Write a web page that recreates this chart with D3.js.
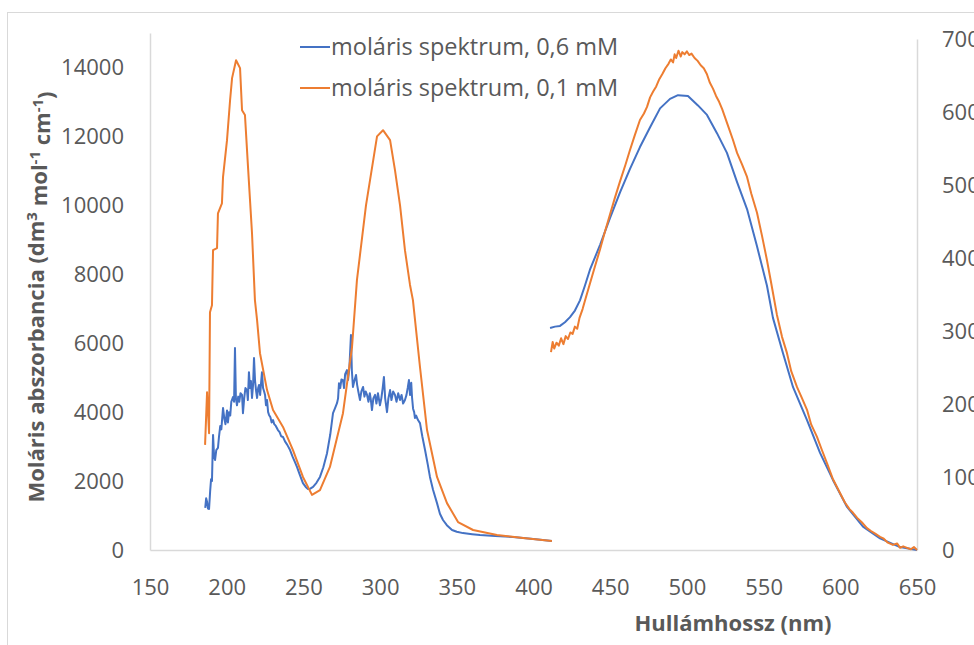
<!DOCTYPE html>
<html>
<head>
<meta charset="utf-8">
<script src="https://cdn.jsdelivr.net/npm/d3@7"></script>
<style>
body{margin:0;background:#fff;}
svg{display:block;font-family:"Open Sans",sans-serif;}
</style>
</head>
<body>
<svg id="chart" width="974" height="645"></svg>
<script>
// UV part (left axis), nm and molar absorbance
var uvWl06 = [186,186.6,187.2,187.8,188.5,189.2,189.8,190.4,191.1,191.8,192.4,193.2,194.3,195,195.8,196.5,197.6,198.5,199.2,200.2,200.8,201.5,202.3,203,204.1,204.8,205.4,206,206.7,207.5,208.2,209,210,210.6,211.4,212.2,213.2,213.8,214.5,215.2,215.8,216.5,217.2,217.8,218.5,219.2,219.8,220.5,221.1,221.8,222.4,223,223.7,224.4,225,225.6,226.3,227,227.6,228.5,229.3,230.2,231,232,233.4,234.5,235.5,236.7,238,239.5,241.3,243,244.5,245.8,247.5,249.7,251.5,253,254.5,256.3,258.5,260.8,263,265.4,267.5,269.3,270.5,271.9,272.6,273.2,274,274.8,275.8,276.5,277.2,278.4,279.1,280,281,281.6,282.3,283.2,284.3,285,285.8,286.9,287.8,288.9,289.8,290.6,291.5,292.4,293.3,294,294.7,295.6,296.7,297.6,298.6,299.9,300.8,301.7,302.5,303.3,304.5,305.4,306.5,307.4,308.5,309.7,310.7,311.8,313,314,315,316.2,317.2,318,318.8,319.5,320.3,320.8,321.5,322.2,322.7,323.5,324.7,326,327.5,329.3,331,332.5,334.5,337.1,339,341,343.5,346.9,350,354,360,365.1,375,386.6,400,412];
var uvAbs06 = [1220,1500,1400,1200,1190,1700,2050,2000,3340,2700,2610,2900,2960,3300,3600,3500,4120,3800,3650,4050,3700,4000,3900,4300,4440,4300,5860,4400,4200,4450,4300,4550,4500,3970,4400,4700,4640,4350,5160,4700,4900,4410,4800,5570,4900,4600,4410,4700,4790,4500,4850,5160,4700,4600,4500,4200,4350,4000,3920,3850,3700,3770,3650,3600,3480,3420,3300,3280,3150,3050,2900,2700,2550,2410,2200,1940,1830,1770,1780,1830,1950,2120,2400,2810,3350,3970,4100,4260,4400,4840,4700,4950,4930,4700,5100,5220,4930,5300,6240,5200,4730,4900,5080,4800,4600,4350,4600,4730,4450,4600,4500,4300,4550,4350,4060,4400,4500,4250,4550,4200,4400,4700,5020,4400,4000,4400,4640,4350,4600,4500,4300,4550,4350,4500,4250,4350,4500,4700,4930,4500,4850,4440,4100,4000,3830,3900,3770,3680,3300,2900,2500,2120,1750,1360,1050,870,720,580,530,490,460,435,405,377,320,260];

var uvWl01 = [185.9,187.2,188.5,189.1,190.4,191.1,193.7,194.3,196.9,197.6,200.2,202.2,203.5,206.1,208.7,210.0,211.9,213.9,216.5,218.4,219.8,221.7,226.3,230.2,236.7,243.2,249.7,255.6,260.8,267.3,275.8,281.7,284.9,290.8,298.0,301.9,306.5,309.7,313.0,316.2,319.5,321.4,326.0,330.6,337.1,343.6,350.8,360.6,376.2,393.2,412.0];
var uvAbs01 = [3050,4580,3390,6900,7100,8700,8760,9770,10060,10820,11890,13050,13690,14210,13980,12760,12620,11110,9190,7250,6670,5710,4640,4060,3570,2900,2120,1600,1740,2410,3970,5890,7830,10000,12000,12180,11890,11020,10000,8700,7690,7250,5310,3480,2120,1360,810,580,435,350,260];

// visible part (right axis)
var visWl06 = [410.8,414,417.3,420.5,423.8,427,430.3,433.5,436.8,443.4,449.9,456.4,462.9,469.4,476.0,482.5,489.0,494.2,500.7,507.2,513.1,519.6,526.1,532.7,539.2,545.7,552.2,556.1,562.6,569.2,578.3,586.8,595.2,604.4,614.8,625.9,638.9,650.0];
var visAbs06 = [304,306,307,312,319,328,342,362,384,418,455,490,522,552,579,605,618,623,622,609,596,571,544,504,467,416,362,318,270,223,178,133,96,59,32,16,4,0];

var visWl01 = [411.4,412.5,413.5,415,416.5,418,419.5,421,422.5,424,425.5,427,428.5,430,432,434,436.8,440,443.4,446,449.9,453,456.4,460,462.9,466,469.4,472,474,476,478,480,482,484,486,488,489.5,491,492,493,494.5,496,497,498.5,500,501.5,503,505,507,509,511,513,515,517,519,521,523,525,527,530,532.7,536,539.2,542,545.7,549,552.2,555,558.7,562,565.2,568,571.8,575,578.3,581,584.8,588,591.3,595,599.8,603,606,608.3,611,614,617.4,620,623,625.9,628,631,634.3,637,639,641,643.5,646,648,650];
var visAbs01 = [271,285,276,284,280,290,282,293,289,298,296,306,303,318,330,345,365,388,412,432,460,482,505,528,548,568,589,598,607,620,628,635,645,652,660,666,672,668,679,674,684,676,682,679,683,678,680,674,670,664,660,652,640,632,622,614,604,592,580,562,544,528,511,488,462,430,397,365,322,292,270,245,223,208,192,172,155,137,119,98,78,65,56,51,44,38,30,26,22,18,16,10,7,9,3,5,3,1,4,0];

var xTicks = [150,200,250,300,350,400,450,500,550,600,650];
var leftTicks = [0,2000,4000,6000,8000,10000,12000,14000];
var rightTicks = [0,100,200,300,400,500,600,700];

var legendNames = ["moláris spektrum, 0,6 mM","moláris spektrum, 0,1 mM"];
var colors = ["#4472C4","#ED7D31"];

var svg = d3.select("#chart");
var textCol = "#595959", axisCol = "#d9d9d9";

svg.append("rect")
    .attr("x",7.5).attr("y",12.5)
    .attr("width",1000).attr("height",700)
    .style("fill","#fff").style("stroke",axisCol);

var x = d3.scaleLinear().domain([150,650]).range([150,917]);
var yL = d3.scaleLinear().domain([0,15000]).range([550,33]);
var yR = d3.scaleLinear().domain([0,700]).range([550,39]);

var toPts = (wl,v) => wl.map((d,i)=>({x:d,y:v[i]}));

var lineL = d3.line().x(d=>x(d.x)).y(d=>yL(d.y));
var lineR = d3.line().x(d=>x(d.x)).y(d=>yR(d.y));

var axB = svg.append("g")
    .attr("transform","translate(0,550)")
    .call(d3.axisBottom(x).tickValues(xTicks).tickSize(0).tickPadding(29).tickFormat(d3.format("d")));
var axL = svg.append("g")
    .attr("transform","translate(150,0)")
    .call(d3.axisLeft(yL).tickValues(leftTicks).tickSize(0).tickPadding(26).tickFormat(d3.format("d")));
var axR = svg.append("g")
    .attr("transform","translate(917,0)")
    .call(d3.axisRight(yR).tickValues(rightTicks).tickSize(0).tickPadding(25).tickFormat(d3.format("d")));

[axB,axL,axR].forEach(function(a){
    a.select(".domain").style("stroke",axisCol).style("stroke-width","1.5px");
    a.selectAll("text").style("fill",textCol).style("font-size","22px").style("font-family",'"Open Sans",sans-serif');
});

// draw series
var series = [
    {d:toPts(uvWl06,uvAbs06),l:lineL,c:colors[0]},
    {d:toPts(uvWl01,uvAbs01),l:lineL,c:colors[1]},
    {d:toPts(visWl06,visAbs06),l:lineR,c:colors[0]},
    {d:toPts(visWl01,visAbs01),l:lineR,c:colors[1]}
];
series.forEach(function(s){
    svg.append("path")
        .datum(s.d)
        .attr("d",s.l)
        .style("fill","none")
        .style("stroke",s.c)
        .style("stroke-width","2px")
        .style("stroke-linejoin","round");
});

// legend
legendNames.forEach(function(n,i){
    var ly = 47 + i*41;
    svg.append("line").attr("x1",300).attr("x2",330).attr("y1",ly).attr("y2",ly)
        .style("stroke",colors[i]).style("stroke-width","2px");
    svg.append("text").attr("x",331).attr("y",ly).attr("dy","0.35em")
        .style("fill",textCol).style("font-size","23.5px").text(n);
});

// axis titles
svg.append("text")
    .attr("x",733).attr("y",623).attr("dy","0.35em")
    .attr("text-anchor","middle")
    .style("fill",textCol).style("font-size","22px").style("font-weight","bold")
    .text("Hullámhossz (nm)");

var yt = svg.append("text")
    .attr("transform","translate(36,297) rotate(-90)")
    .attr("dy","0.35em")
    .attr("text-anchor","middle")
    .style("fill",textCol).style("font-size","22px").style("font-weight","bold");
yt.append("tspan").text("Moláris abszorbancia (dm");
yt.append("tspan").attr("dy","-0.45em").style("font-size","15px").text("3");
yt.append("tspan").attr("dy","0.45em").text(" mol");
yt.append("tspan").attr("dy","-0.45em").style("font-size","15px").text("-1");
yt.append("tspan").attr("dy","0.45em").text(" cm");
yt.append("tspan").attr("dy","-0.45em").style("font-size","15px").text("-1");
yt.append("tspan").attr("dy","0.45em").text(")");
</script>
</body>
</html>
